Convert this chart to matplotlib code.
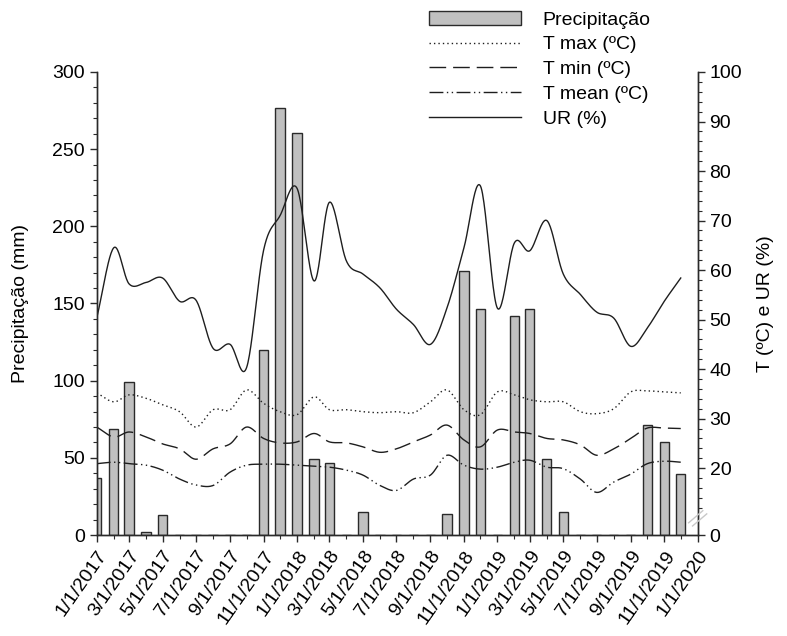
import numpy as np
import pandas as pd
import matplotlib
matplotlib.use("Agg")
import matplotlib.pyplot as plt
import matplotlib.dates as mdates
from matplotlib.lines import Line2D
from matplotlib.patches import Patch
from matplotlib.ticker import FixedLocator, MultipleLocator, FuncFormatter

plt.rcParams["font.family"] = ["Liberation Sans", "DejaVu Sans"]

MONTHS = pd.date_range("2017-01-01", "2019-12-01", freq="MS")

PRECIP = [36.7, 68.5, 98.9, 2.2, 13.0, 0, 0, 0, 0, 0, 119.9, 276.5,
          260.3, 49.0, 46.9, 0, 14.7, 0, 0, 0, 0, 13.4, 171.0, 146.4,
          0, 141.7, 146.4, 49.0, 14.7, 0, 0, 0, 0, 71.3, 60.5, 39.3]

T_MAX = [35.2, 33.4, 34.8, 34.1, 32.8, 31.4, 28.3, 31.8, 31.8, 35.8, 33.1, 31.4,
         30.8, 34.4, 31.8, 31.8, 31.4, 31.2, 31.4, 31.2, 33.4, 35.8, 31.8, 30.8,
         35.4, 34.8, 33.8, 33.4, 33.4, 31.4, 31.0, 32.0, 35.4, 35.6, 35.4, 35.2]

T_MIN = [28.3, 26.3, 27.3, 26.3, 24.9, 23.9, 21.8, 23.9, 24.9, 28.3, 26.0, 25.1,
         25.3, 27.0, 25.3, 25.1, 24.3, 23.2, 23.9, 25.3, 26.7, 28.7, 25.7, 24.3,
         27.7, 27.3, 27.0, 26.0, 25.7, 24.7, 22.6, 23.9, 26.0, 28.1, 28.1, 28.0]

T_MEAN = [20.9, 21.2, 20.9, 20.6, 19.6, 17.8, 16.6, 16.5, 19.2, 20.6, 20.8, 20.8,
          20.6, 20.4, 20.2, 19.6, 18.6, 16.5, 15.5, 17.8, 18.6, 22.6, 20.6, 19.8,
          20.2, 21.2, 21.6, 20.2, 19.9, 17.8, 15.1, 17.2, 18.8, 20.9, 21.4, 21.2]

UR = [50.3, 64.5, 57.2, 57.5, 58.4, 53.7, 53.9, 44.2, 45.0, 40.3, 64.0, 71.0,
      76.5, 57.8, 73.7, 61.8, 59.2, 56.4, 52.1, 49.0, 45.0, 52.3, 64.5, 77.0,
      52.3, 65.5, 63.9, 70.0, 59.2, 55.1, 51.5, 50.3, 44.6, 48.3, 53.7, 58.4]

LEFT_TICKS = [0, 50, 100, 150, 200, 250, 300]
RIGHT_TICKS = [6.5, 20, 30, 40, 50, 60, 70, 80, 90, 100]
RIGHT_LABELS = ["0", "20", "30", "40", "50", "60", "70", "80", "90", "100"]

LINE_COLOR = "#1e1e1e"


def smooth(x, y, n=24):
    # cubic Hermite (Catmull-Rom style) curve through the monthly points
    x = np.asarray(x, float)
    y = np.asarray(y, float)
    mx = np.gradient(x)
    my = np.gradient(y)
    t = np.linspace(0, 1, n, endpoint=False)[:, None]
    h00 = 2 * t**3 - 3 * t**2 + 1
    h10 = t**3 - 2 * t**2 + t
    h01 = -2 * t**3 + 3 * t**2
    h11 = t**3 - t**2
    xs = h00 * x[:-1] + h10 * mx[:-1] + h01 * x[1:] + h11 * mx[1:]
    ys = h00 * y[:-1] + h10 * my[:-1] + h01 * y[1:] + h11 * my[1:]
    xs = np.append(xs.flatten(order="F"), x[-1])
    ys = np.append(ys.flatten(order="F"), y[-1])
    return xs, ys


def main():
    fig = plt.figure(figsize=(7.87, 6.36), dpi=100)
    ax = fig.add_axes([0.1229, 0.1588, 0.7637, 0.728])
    ax2 = ax.twinx()

    x = mdates.date2num(MONTHS)

    ax.bar(x, PRECIP, width=17, color="#c0c0c0", edgecolor="#2a2a2a",
           linewidth=1.0, zorder=2)

    styles = [
        (T_MAX, (0, (1, 2.2)), "T max (ºC)"),
        (T_MIN, (0, (12, 5)), "T min (ºC)"),
        (T_MEAN, (0, (10, 2.5, 1, 2.5, 1, 2.5)), "T mean (ºC)"),
        (UR, "-", "UR (%)"),
    ]
    handles = [Patch(facecolor="#c0c0c0", edgecolor="#2a2a2a", linewidth=1.0,
                     label="Precipitação")]
    for values, ls, label in styles:
        xs, ys = smooth(x, values)
        ax2.plot(xs, ys, color=LINE_COLOR, linestyle=ls, linewidth=1.0)
        handles.append(Line2D([], [], color=LINE_COLOR, linestyle=ls,
                              linewidth=1.0, label=label))

    start = mdates.date2num(pd.Timestamp("2017-01-01"))
    end = mdates.date2num(pd.Timestamp("2020-01-01"))
    ax.set_xlim(start, end)

    ax.set_ylim(0, 300)
    ax.yaxis.set_major_locator(FixedLocator(LEFT_TICKS))
    ax.yaxis.set_minor_locator(MultipleLocator(10))

    ax2.set_ylim(6.5, 100)
    ax2.yaxis.set_major_locator(FixedLocator(RIGHT_TICKS))
    ax2.set_yticklabels(RIGHT_LABELS)
    ax2.yaxis.set_minor_locator(FixedLocator(list(range(12, 100, 2))))

    ax.xaxis.set_major_locator(mdates.MonthLocator(bymonth=[1, 3, 5, 7, 9, 11]))
    ax.xaxis.set_minor_locator(mdates.MonthLocator())
    ax.xaxis.set_major_formatter(FuncFormatter(
        lambda v, pos: "{0.month}/{0.day}/{0.year}".format(mdates.num2date(v))))
    for lab in ax.get_xticklabels():
        lab.set_rotation(55)
        lab.set_ha("right")
        lab.set_rotation_mode("anchor")

    for a in (ax, ax2):
        a.spines["top"].set_visible(False)
        for s in a.spines.values():
            s.set_linewidth(1.0)
            s.set_color("#2a2a2a")
        a.tick_params(which="major", direction="out", length=5, width=1.0,
                      labelsize=14, color="#2a2a2a")
        a.tick_params(which="minor", direction="out", length=3, width=0.8,
                      color="#2a2a2a")
    ax.tick_params(axis="x", which="major", pad=4)

    ax.set_ylabel("Precipitação (mm)", fontsize=14)
    ax.yaxis.set_label_coords(-0.112, 0.5)
    ax2.set_ylabel("T (ºC) e UR (%)", fontsize=14)
    ax2.yaxis.set_label_coords(1.098, 0.5)

    # axis break mark on the right axis
    for dx in (0.0, 0.005):
        fig.add_artist(Line2D([0.875 + dx, 0.893 + dx], [0.178 - dx, 0.197 - dx],
                              color="#c8c8c8", linewidth=1.0,
                              transform=fig.transFigure))

    fig.legend(handles=handles, loc="upper left",
               bbox_to_anchor=(429 / 787, 1 - 11 / 636), frameon=False,
               fontsize=14, borderpad=0, handlelength=4.75, handletextpad=1.1,
               labelspacing=0.37, borderaxespad=0)

    fig.savefig("out.png", dpi=100)
    plt.close(fig)


if __name__ == "__main__":
    main()
